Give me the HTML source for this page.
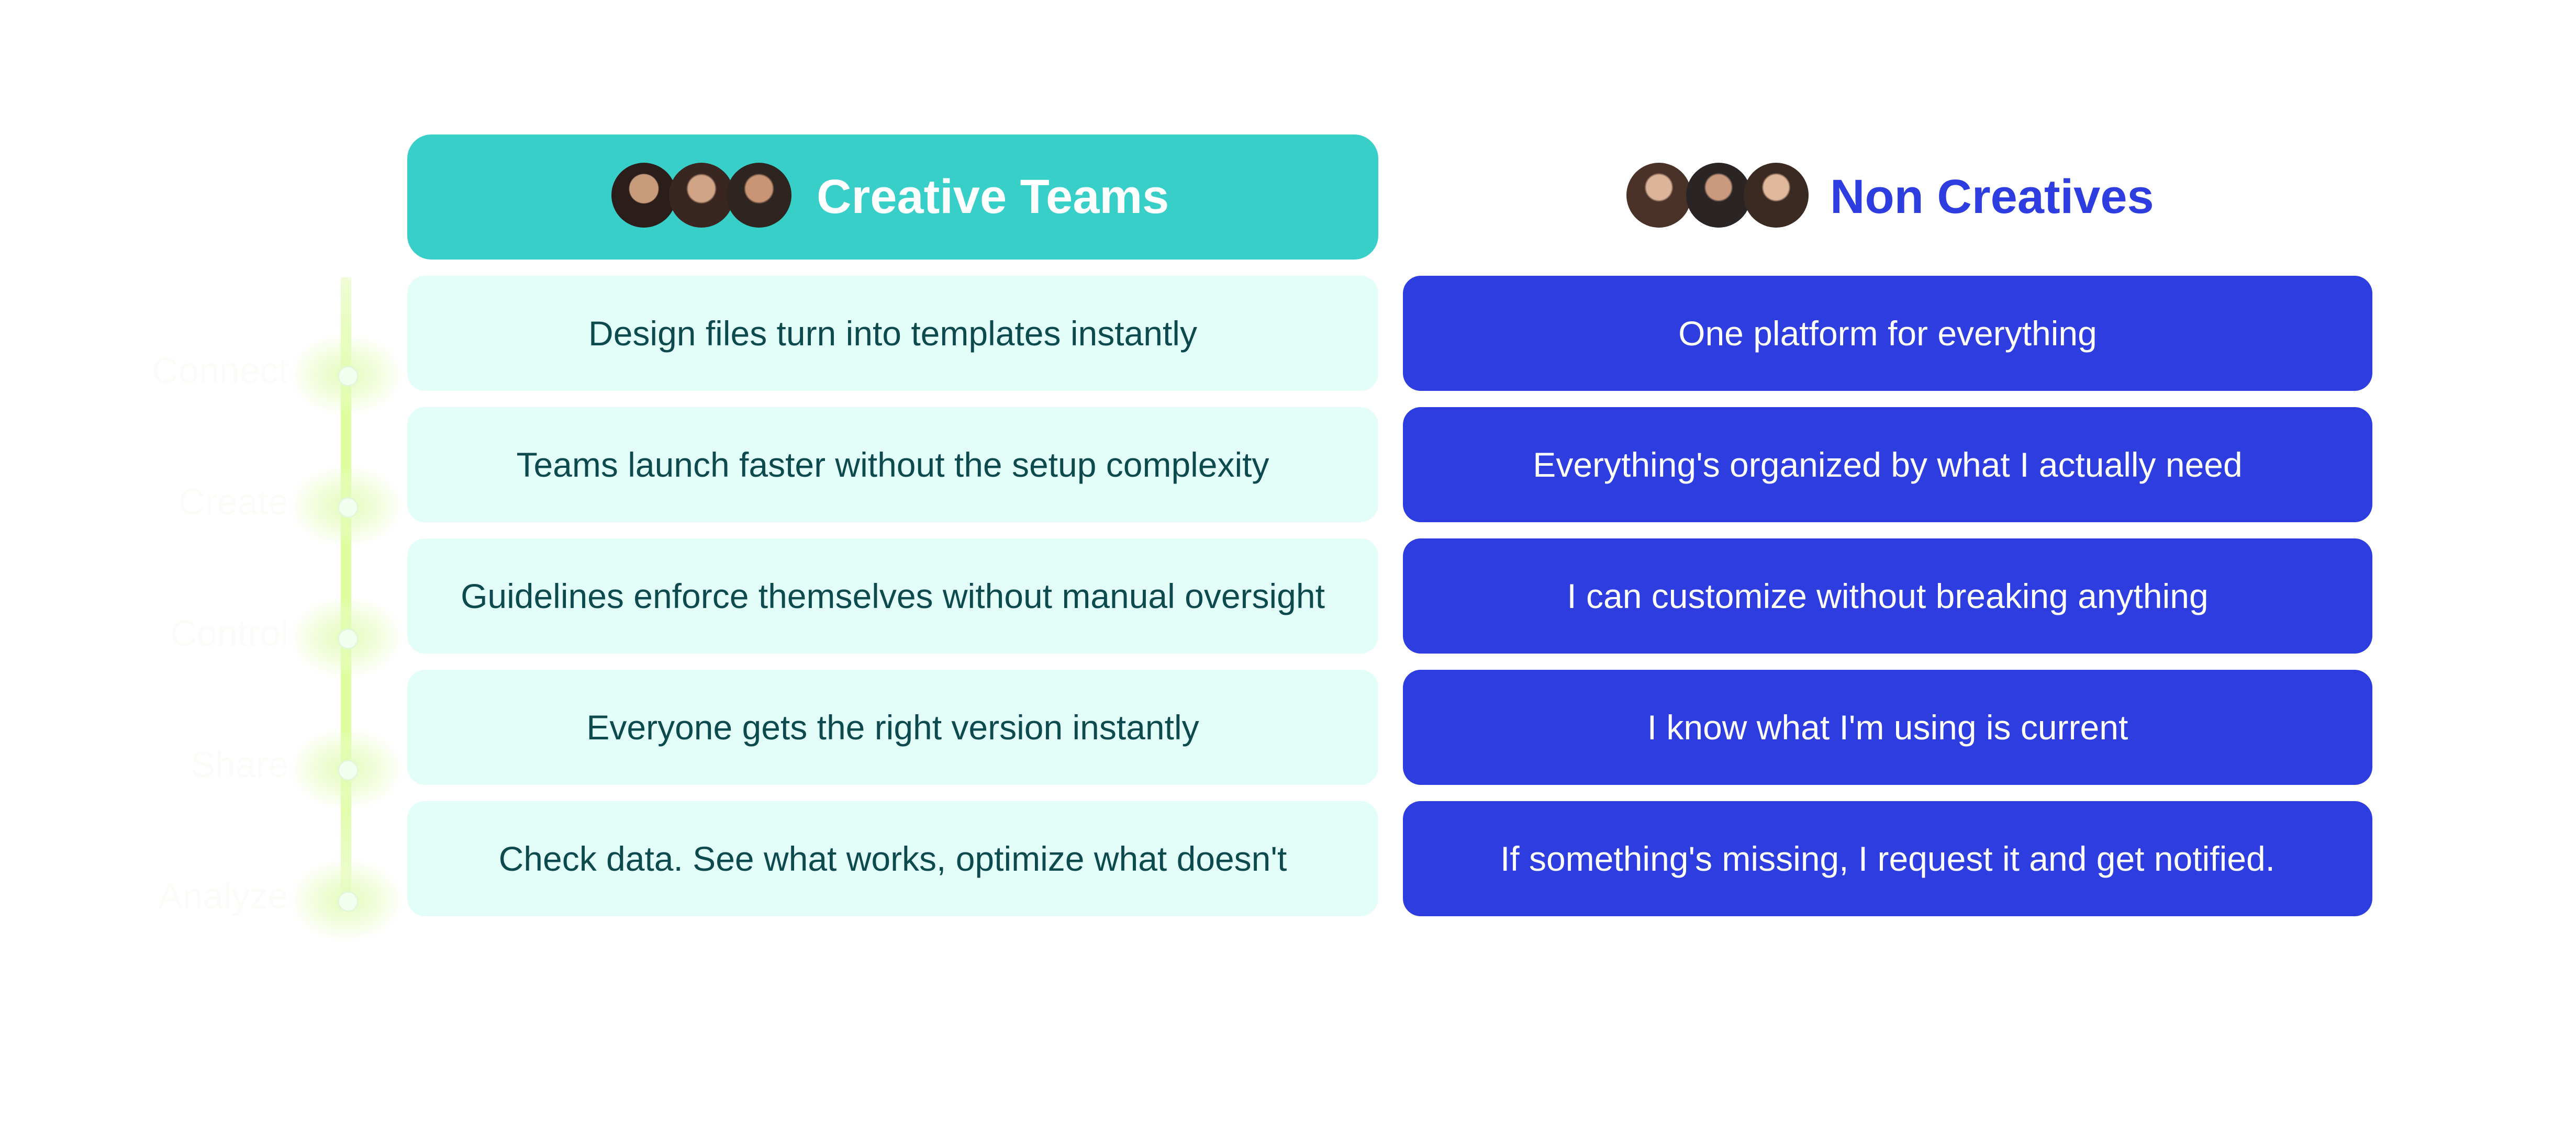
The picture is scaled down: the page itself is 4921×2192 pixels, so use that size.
<!DOCTYPE html>
<html><head><meta charset="utf-8"><style>
body{margin:0;width:4921px;height:2192px;background:#fff;position:relative;overflow:hidden;font-family:"Liberation Sans",sans-serif}
.box{position:absolute;border-radius:34px;display:flex;align-items:center;justify-content:center;font-size:66px;white-space:nowrap}
.l{left:778px;width:1855px;background:#e3fdf8;color:#0c4a4e}
.r{left:2680px;width:1852px;background:#2e3de0;color:#fff}
.av{position:absolute;width:124px;height:124px;border-radius:50%}
.glow{position:absolute;width:220px;height:160px;border-radius:50%;background:radial-gradient(ellipse at center,rgba(225,250,180,.9) 0%,rgba(235,252,200,.5) 45%,rgba(255,255,255,0) 70%)}
.dot{position:absolute;width:34px;height:34px;border-radius:50%;background:#f2fff0;border:3px solid #e0f8d8}
.lbl{position:absolute;right:4330px;font-size:70px;color:#fbfcf8;white-space:nowrap}
</style></head><body>
<div style="position:absolute;left:651px;top:530px;width:20px;height:1190px;background:linear-gradient(#f0fcd8,#dcfe9c 20%,#dcfe9c 80%,#f0fcd8)"></div>
<div class="glow" style="left:552px;top:636px"></div><div class="dot" style="left:645px;top:699px"></div>
<div class="glow" style="left:552px;top:887px"></div><div class="dot" style="left:645px;top:950px"></div>
<div class="glow" style="left:552px;top:1138px"></div><div class="dot" style="left:645px;top:1201px"></div>
<div class="glow" style="left:552px;top:1389px"></div><div class="dot" style="left:645px;top:1452px"></div>
<div class="glow" style="left:552px;top:1640px"></div><div class="dot" style="left:645px;top:1703px"></div>
<div class="lbl" style="top:668px;right:4370px">Connect</div>
<div class="lbl" style="top:919px;right:4370px">Create</div>
<div class="lbl" style="top:1170px;right:4370px">Control</div>
<div class="lbl" style="top:1421px;right:4370px">Share</div>
<div class="lbl" style="top:1672px;right:4370px">Analyze</div>

<div style="position:absolute;left:778px;top:257px;width:1855px;height:239px;border-radius:46px;background:#38cfc9"></div>
<div class="av" style="left:1168px;top:311px;background:radial-gradient(circle at 50% 40%,#c79a7a 0 28%,#2a1d1a 30% 100%)"></div>
<div class="av" style="left:1278px;top:311px;background:radial-gradient(circle at 50% 40%,#d1a486 0 26%,#3a2620 30% 100%)"></div>
<div class="av" style="left:1388px;top:311px;background:radial-gradient(circle at 50% 40%,#c99575 0 26%,#2f2520 30% 100%)"></div>
<div style="position:absolute;left:1560px;top:324px;font-size:92px;font-weight:bold;color:#fff;white-space:nowrap">Creative Teams</div>

<div class="av" style="left:3107px;top:311px;background:radial-gradient(circle at 50% 38%,#dcb49a 0 24%,#4a3228 28% 100%)"></div>
<div class="av" style="left:3221px;top:311px;background:radial-gradient(circle at 50% 38%,#c99a7e 0 24%,#2a2524 28% 100%)"></div>
<div class="av" style="left:3331px;top:311px;background:radial-gradient(circle at 50% 38%,#e0b89c 0 24%,#3b2a22 28% 100%)"></div>
<div style="position:absolute;left:3496px;top:324px;font-size:92px;font-weight:bold;color:#2e3de0;white-space:nowrap">Non Creatives</div>

<div class="box l" style="top:527px;height:220px">Design files turn into templates instantly</div>
<div class="box l" style="top:778px;height:220px">Teams launch faster without the setup complexity</div>
<div class="box l" style="top:1029px;height:220px">Guidelines enforce themselves without manual oversight</div>
<div class="box l" style="top:1280px;height:220px">Everyone gets the right version instantly</div>
<div class="box l" style="top:1531px;height:220px">Check data. See what works, optimize what doesn't</div>
<div class="box r" style="top:527px;height:220px">One platform for everything</div>
<div class="box r" style="top:778px;height:220px">Everything's organized by what I actually need</div>
<div class="box r" style="top:1029px;height:220px">I can customize without breaking anything</div>
<div class="box r" style="top:1280px;height:220px">I know what I'm using is current</div>
<div class="box r" style="top:1531px;height:220px">If something's missing, I request it and get notified.</div>
</body></html>
